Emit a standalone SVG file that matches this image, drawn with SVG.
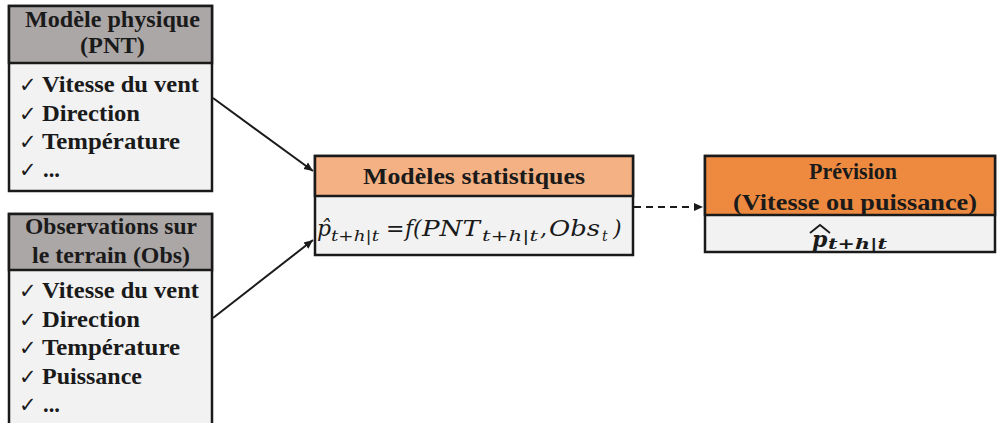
<svg xmlns="http://www.w3.org/2000/svg" width="997" height="423" viewBox="0 0 997 423">
<style>
.box{stroke:#1a1a1a;stroke-width:2.5}
.body{fill:#f2f2f2}
.h{font-family:"Liberation Serif",serif;font-weight:bold;font-size:23px;fill:#1a1a1a}
.li{font-family:"Liberation Serif",serif;font-weight:bold;font-size:23px;fill:#1a1a1a}
.ck{font-family:"DejaVu Sans",sans-serif;font-size:21px;fill:#1a1a1a}
.m{font-family:"DejaVu Serif",serif;font-style:italic;font-size:22px;fill:#1a1a1a}
.s{font-family:"DejaVu Serif",serif;font-style:italic;font-size:14px;fill:#1a1a1a}
.conn{stroke:#1a1a1a;stroke-width:2;fill:none}
</style>
<defs>
<marker id="ah" markerWidth="10" markerHeight="10" refX="9" refY="5" orient="auto" markerUnits="userSpaceOnUse">
<path d="M0,1 L9,5 L0,9 Z" fill="#1a1a1a"/>
</marker>
</defs>
<g id="connectors">
<line class="conn" x1="213" y1="98" x2="313" y2="171" marker-end="url(#ah)"/>
<line class="conn" x1="213" y1="318" x2="313" y2="240" marker-end="url(#ah)"/>
<line class="conn" x1="634" y1="207" x2="703" y2="207" stroke-dasharray="7,5" marker-end="url(#ah)"/>
</g>
<g id="pnt">
<rect class="box body" x="9" y="6" width="203" height="185"/>
<rect class="box" x="9" y="6" width="203" height="57" fill="#aca7a7"/>
<text class="h" x="25" y="27" textLength="175" lengthAdjust="spacingAndGlyphs">Modèle physique</text>
<text class="h" x="80" y="53" textLength="65" lengthAdjust="spacingAndGlyphs">(PNT)</text>
<text class="ck" x="19" y="92">✓</text><text class="li" x="42" y="92" textLength="157" lengthAdjust="spacingAndGlyphs">Vitesse du vent</text>
<text class="ck" x="19" y="121">✓</text><text class="li" x="42" y="121" textLength="98" lengthAdjust="spacingAndGlyphs">Direction</text>
<text class="ck" x="19" y="149">✓</text><text class="li" x="42" y="149" textLength="138" lengthAdjust="spacingAndGlyphs">Température</text>
<text class="ck" x="19" y="177">✓</text><text class="li" x="43" y="177" textLength="17" lengthAdjust="spacingAndGlyphs">...</text>
</g>
<g id="obs">
<rect class="box body" x="9" y="214" width="203" height="215"/>
<rect class="box" x="9" y="214" width="203" height="56" fill="#aca7a7"/>
<text class="h" x="25" y="234" textLength="172" lengthAdjust="spacingAndGlyphs">Observations sur</text>
<text class="h" x="32" y="263" textLength="158" lengthAdjust="spacingAndGlyphs">le terrain (Obs)</text>
<text class="ck" x="19" y="298">✓</text><text class="li" x="42" y="298" textLength="157" lengthAdjust="spacingAndGlyphs">Vitesse du vent</text>
<text class="ck" x="19" y="327">✓</text><text class="li" x="42" y="327" textLength="98" lengthAdjust="spacingAndGlyphs">Direction</text>
<text class="ck" x="19" y="355">✓</text><text class="li" x="42" y="355" textLength="138" lengthAdjust="spacingAndGlyphs">Température</text>
<text class="ck" x="19" y="384">✓</text><text class="li" x="42" y="384" textLength="100" lengthAdjust="spacingAndGlyphs">Puissance</text>
<text class="ck" x="19" y="412">✓</text><text class="li" x="43" y="412" textLength="17" lengthAdjust="spacingAndGlyphs">...</text>
</g>
<g id="stat">
<rect class="box body" x="315" y="156" width="318" height="99"/>
<rect class="box" x="315" y="156" width="318" height="40" fill="#f4b183"/>
<text class="h" x="363" y="184" textLength="222" lengthAdjust="spacingAndGlyphs">Modèles statistiques</text>
<text class="m" x="317" y="236">p̂</text>
<text class="s" x="331" y="241" textLength="48" lengthAdjust="spacingAndGlyphs">t+h|t</text>
<text class="m" x="386" y="236" font-style="normal" font-size="19">=</text>
<text class="m" x="405" y="236">f</text>
<text class="m" x="413" y="236" font-style="normal">(</text>
<text class="m" x="422" y="236" textLength="58" lengthAdjust="spacingAndGlyphs">PNT</text>
<text class="s" x="482" y="241" textLength="56" lengthAdjust="spacingAndGlyphs">t+h|t</text>
<text class="m" x="540" y="236">,</text>
<text class="m" x="549" y="236" textLength="51" lengthAdjust="spacingAndGlyphs">Obs</text>
<text class="s" x="602" y="241">t</text>
<text class="m" x="613" y="236" font-style="normal">)</text>
</g>
<g id="prev">
<rect class="box body" x="705" y="156" width="290" height="96"/>
<rect class="box" x="705" y="156" width="290" height="59" fill="#ed8a40"/>
<text class="h" x="809" y="179" textLength="88" lengthAdjust="spacingAndGlyphs">Prévision</text>
<text class="h" x="733" y="210" textLength="244" lengthAdjust="spacingAndGlyphs">(Vitesse ou puissance)</text>
<text class="m" x="812" y="247" font-weight="bold" font-size="24">p</text>
<text class="s" x="828" y="249" font-weight="bold" font-size="15" textLength="59" lengthAdjust="spacingAndGlyphs">t+h|t</text>
<path d="M810,233 L820,225 L830,233" fill="none" stroke="#1a1a1a" stroke-width="1.8"/>
</g>
</svg>
